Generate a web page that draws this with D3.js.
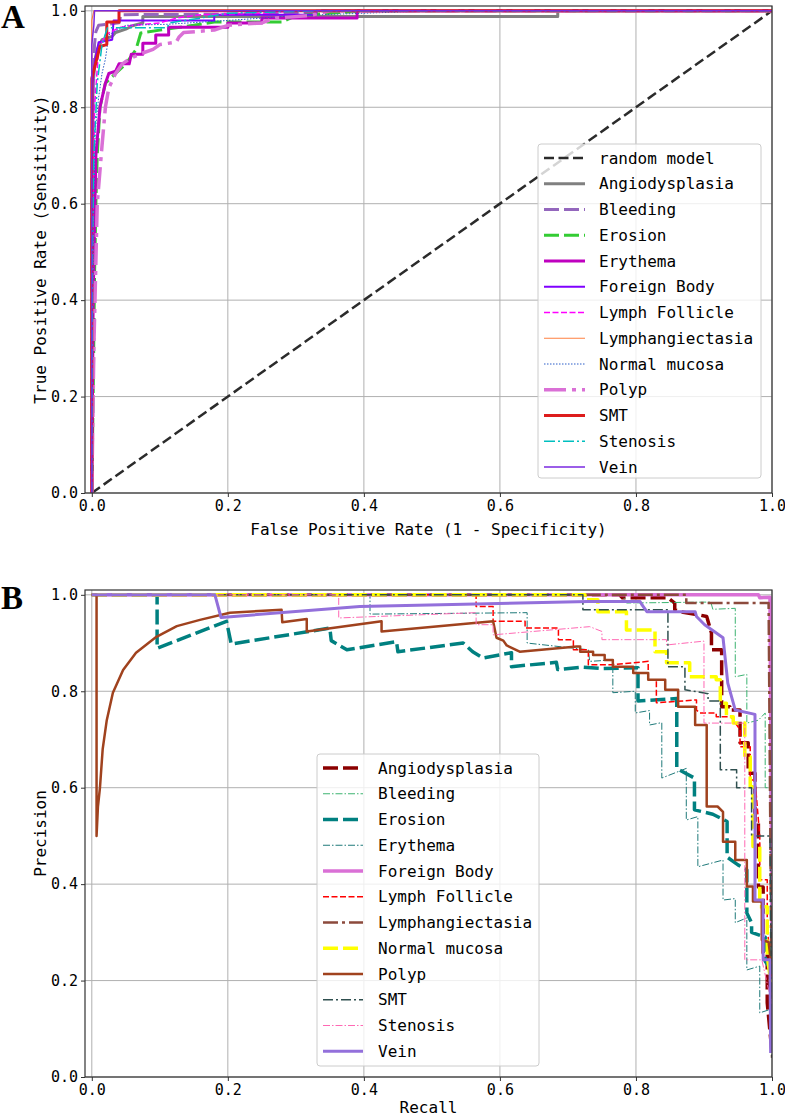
<!DOCTYPE html>
<html><head><meta charset="utf-8">
<script src="https://cdn.jsdelivr.net/npm/d3@7"></script>
<style>
body{margin:0;background:#fff}
</style>
</head><body>
<svg id="chart" width="785" height="1116"></svg>
<script>
// ---------------- DATA ----------------
const classNames = ["Angiodysplasia","Bleeding","Erosion","Erythema","Foreign Body","Lymph Follicle","Lymphangiectasia","Normal mucosa","Polyp","SMT","Stenosis","Vein"];
const tickValues = [0,0.2,0.4,0.6,0.8,1.0];
const tickLabels = ["0.0","0.2","0.4","0.6","0.8","1.0"];
const rocXLabel = "False Positive Rate (1 - Specificity)";
const rocYLabel = "True Positive Rate (Sensitivity)";
const prXLabel = "Recall";
const prYLabel = "Precision";
const randomModelLabel = "random model";
const randomModel = [[0,0],[1,1]];

// ROC curves [FPR, TPR]
const rocAngiodysplasia = [[0,0],[0,0.6],[0.002,0.85],[0.005,0.9],[0.008,0.92],[0.015,0.94],[0.03,0.947],[0.035,0.955],[0.05,0.962],[0.06,0.969],[0.075,0.975],[0.075,0.988],[0.685,0.988],[0.685,1],[1,1]];
const rocBleeding = [[0,0],[0,0.6],[0.002,0.85],[0.004,0.93],[0.006,0.957],[0.01,0.97],[0.04,0.975],[0.043,0.992],[0.2,0.993],[0.33,0.995],[0.33,1],[1,1]];
const rocErosion = [[0,0],[0.002,0.2],[0.004,0.45],[0.006,0.6],[0.008,0.7],[0.012,0.8],[0.02,0.85],[0.035,0.87],[0.05,0.89],[0.065,0.92],[0.072,0.954],[0.1,0.96],[0.15,0.97],[0.18,0.977],[0.28,0.977],[0.3,0.99],[0.4,1],[1,1]];
const rocErythema = [[0,0],[0.002,0.4],[0.006,0.7],[0.012,0.8],[0.02,0.85],[0.025,0.87],[0.035,0.875],[0.04,0.89],[0.055,0.89],[0.058,0.91],[0.075,0.91],[0.075,0.933],[0.094,0.933],[0.094,0.95],[0.113,0.95],[0.113,0.966],[0.2,0.966],[0.2,0.975],[0.25,0.975],[0.25,0.985],[0.39,0.985],[0.39,1],[1,1]];
const rocForeignBody = [[0,0],[0.001,0.85],[0.005,0.9],[0.01,0.935],[0.03,0.94],[0.032,0.98],[0.18,0.98],[0.18,0.992],[0.33,0.992],[0.33,1],[1,1]];
const rocLymphFollicle = [[0,0],[0.002,0.6],[0.004,0.8],[0.01,0.92],[0.02,0.95],[0.04,0.965],[0.06,0.97],[0.1,0.975],[0.125,0.985],[0.16,0.992],[0.25,0.995],[0.3,1],[1,1]];
const rocLymphangiectasia = [[0,0],[0,0.98],[0.003,1],[1,1]];
const rocNormalMucosa = [[0,0],[0.003,0.6],[0.005,0.75],[0.01,0.82],[0.015,0.87],[0.02,0.9],[0.025,0.95],[0.05,0.97],[0.11,0.972],[0.2,0.98],[0.3,0.99],[0.5,1],[1,1]];
const rocPolyp = [[0,0],[0.003,0.3],[0.008,0.6],[0.015,0.72],[0.02,0.8],[0.025,0.84],[0.035,0.87],[0.045,0.89],[0.055,0.9],[0.07,0.91],[0.09,0.92],[0.1,0.93],[0.124,0.935],[0.128,0.945],[0.135,0.955],[0.18,0.96],[0.2,0.97],[0.25,0.975],[0.27,0.985],[0.32,0.99],[0.35,1],[1,1]];
const rocSMT = [[0,0],[0,0.86],[0.012,0.926],[0.022,0.93],[0.022,0.977],[0.04,0.977],[0.04,1],[1,1]];
const rocStenosis = [[0,0],[0.001,0.5],[0.003,0.7],[0.008,0.85],[0.015,0.93],[0.023,0.965],[0.11,0.965],[0.115,0.975],[0.16,0.985],[0.2,0.995],[0.33,1],[1,1]];
const rocVein = [[0,0],[0,0.93],[0.003,0.97],[0.004,1],[1,1]];

// Precision-recall curves [recall, precision]
const prAngiodysplasia = [[0,1],[0.776,1],[0.78,0.994],[0.847,0.994],[0.857,0.983],[0.857,0.969],[0.865,0.965],[0.894,0.958],[0.904,0.955],[0.911,0.921],[0.911,0.886],[0.926,0.886],[0.926,0.768],[0.938,0.768],[0.938,0.761],[0.953,0.761],[0.953,0.693],[0.965,0.693],[0.965,0.63],[0.975,0.63],[0.975,0.533],[0.98,0.533],[0.98,0.394],[0.987,0.394],[0.987,0.257],[0.993,0.257],[0.993,0.154],[1,0.05]];
const prBleeding = [[0,1],[0.78,1],[0.786,0.983],[0.91,0.985],[0.913,0.97],[0.946,0.972],[0.946,0.83],[0.963,0.835],[0.963,0.734],[0.98,0.74],[0.99,0.755],[0.99,0.6],[0.997,0.6],[1,0.12]];
const prErosion = [[0,1],[0.096,1],[0.096,0.889],[0.198,0.945],[0.205,0.898],[0.35,0.931],[0.352,0.905],[0.375,0.886],[0.448,0.903],[0.45,0.882],[0.546,0.9],[0.56,0.882],[0.575,0.869],[0.617,0.88],[0.617,0.851],[0.683,0.86],[0.685,0.845],[0.72,0.85],[0.75,0.847],[0.803,0.849],[0.803,0.78],[0.86,0.785],[0.86,0.64],[0.886,0.62],[0.886,0.554],[0.913,0.545],[0.934,0.53],[0.934,0.456],[0.95,0.44],[0.963,0.43],[0.963,0.34],[0.97,0.32],[0.97,0.3],[0.99,0.29],[0.99,0.24],[1,0.22]];
const prErythema = [[0,1],[0.409,1],[0.409,0.96],[0.64,0.963],[0.64,0.9],[0.73,0.886],[0.732,0.862],[0.766,0.865],[0.766,0.797],[0.799,0.8],[0.799,0.755],[0.82,0.76],[0.82,0.73],[0.838,0.735],[0.838,0.62],[0.874,0.64],[0.874,0.533],[0.891,0.54],[0.891,0.436],[0.928,0.45],[0.928,0.367],[0.946,0.37],[0.946,0.32],[0.963,0.33],[0.963,0.222],[0.982,0.23],[0.982,0.133],[0.997,0.14],[1,0.05]];
const prForeignBody = [[0,1],[0.98,1],[0.982,0.994],[0.997,0.995],[1,0.3]];
const prLymphFollicle = [[0,1],[0.565,1],[0.565,0.976],[0.59,0.976],[0.59,0.945],[0.637,0.945],[0.637,0.931],[0.686,0.931],[0.686,0.907],[0.708,0.907],[0.708,0.886],[0.73,0.886],[0.73,0.855],[0.764,0.855],[0.818,0.862],[0.818,0.824],[0.83,0.824],[0.83,0.776],[0.889,0.782],[0.889,0.761],[0.894,0.755],[0.918,0.755],[0.918,0.747],[0.94,0.747],[0.953,0.72],[0.953,0.685],[0.968,0.685],[0.968,0.616],[0.975,0.616],[0.982,0.5],[0.982,0.409],[0.993,0.409],[0.993,0.312],[1,0.2]];
const prLymphangiectasia = [[0,1],[0.874,1],[0.874,0.983],[0.995,0.983],[1,0.04]];
const prNormalMucosa = [[0,1],[0.725,1],[0.725,0.99],[0.744,0.99],[0.744,0.965],[0.786,0.965],[0.786,0.927],[0.828,0.927],[0.828,0.882],[0.845,0.882],[0.845,0.859],[0.879,0.859],[0.879,0.83],[0.918,0.83],[0.918,0.824],[0.924,0.824],[0.924,0.775],[0.933,0.775],[0.933,0.747],[0.943,0.747],[0.943,0.734],[0.96,0.734],[0.96,0.664],[0.968,0.664],[0.968,0.602],[0.972,0.602],[0.972,0.478],[0.982,0.478],[0.982,0.353],[0.993,0.353],[0.993,0.25],[1,0.18]];
const prPolyp = [[0,1],[0.007,1],[0.007,0.5],[0.009,0.56],[0.012,0.6],[0.016,0.68],[0.022,0.74],[0.031,0.797],[0.046,0.844],[0.065,0.88],[0.095,0.913],[0.125,0.935],[0.159,0.948],[0.203,0.963],[0.279,0.969],[0.28,0.943],[0.316,0.95],[0.316,0.924],[0.426,0.945],[0.426,0.924],[0.59,0.945],[0.595,0.911],[0.605,0.905],[0.61,0.895],[0.629,0.882],[0.713,0.893],[0.718,0.893],[0.718,0.882],[0.737,0.882],[0.737,0.875],[0.754,0.875],[0.754,0.865],[0.766,0.865],[0.766,0.851],[0.796,0.851],[0.796,0.838],[0.818,0.838],[0.818,0.824],[0.843,0.824],[0.843,0.803],[0.862,0.803],[0.862,0.768],[0.887,0.768],[0.887,0.73],[0.904,0.73],[0.904,0.561],[0.92,0.561],[0.928,0.55],[0.928,0.488],[0.946,0.488],[0.946,0.45],[0.963,0.45],[0.963,0.395],[0.972,0.395],[0.972,0.364],[0.985,0.364],[0.985,0.284],[0.995,0.28],[1,0.22]];
const prSMT = [[0,1],[0.722,1],[0.722,0.969],[0.847,0.969],[0.847,0.851],[0.872,0.851],[0.872,0.803],[0.906,0.795],[0.906,0.78],[0.924,0.78],[0.924,0.637],[0.948,0.637],[0.948,0.6],[0.97,0.6],[0.97,0.5],[0.997,0.5],[1,0.04]];
const prStenosis = [[0,1],[0.363,1],[0.363,0.952],[0.565,0.963],[0.565,0.938],[0.59,0.938],[0.59,0.917],[0.732,0.934],[0.75,0.924],[0.75,0.907],[0.845,0.907],[0.845,0.896],[0.9,0.904],[0.9,0.734],[0.96,0.734],[0.96,0.243],[0.985,0.243],[1,0.15]];
const prVein = [[0,1],[0.181,1],[0.19,0.953],[0.394,0.976],[0.73,0.986],[0.806,0.986],[0.809,0.979],[0.816,0.965],[0.887,0.965],[0.889,0.955],[0.901,0.938],[0.928,0.911],[0.935,0.817],[0.946,0.761],[0.975,0.752],[0.975,0.367],[0.987,0.367],[0.987,0.243],[0.997,0.243],[0.998,0.05]];

const rocCurves = [rocAngiodysplasia,rocBleeding,rocErosion,rocErythema,rocForeignBody,rocLymphFollicle,rocLymphangiectasia,rocNormalMucosa,rocPolyp,rocSMT,rocStenosis,rocVein];
const prCurves = [prAngiodysplasia,prBleeding,prErosion,prErythema,prForeignBody,prLymphFollicle,prLymphangiectasia,prNormalMucosa,prPolyp,prSMT,prStenosis,prVein];

// ---------------- STYLES ----------------
const monoFont = "'DejaVu Sans Mono','Liberation Mono',monospace";
const serifFont = "'Liberation Serif','Times New Roman',serif";
const randomStyle = {color:"#2b2b2b", width:2.5, dash:"10,4.5"};
const rocStyles = [
  {color:"#808080", width:3, dash:null},
  {color:"#9467bd", width:3, dash:"15,5"},
  {color:"#33cc33", width:3, dash:"15,5"},
  {color:"#bf00bf", width:3, dash:null},
  {color:"#7f00ff", width:2, dash:null},
  {color:"#ff00ff", width:1.5, dash:"6,2.5"},
  {color:"#ff8040", width:1.2, dash:null},
  {color:"#2a5cc8", width:1, dash:"1.5,1.5"},
  {color:"#da70d6", width:3.5, dash:"22,6,4,6"},
  {color:"#dd1c1c", width:3, dash:null},
  {color:"#00bfbf", width:1.5, dash:"11,3,2,3"},
  {color:"#7a28e0", width:1.5, dash:null}
];
const prStyles = [
  {color:"#8b0000", width:3.5, dash:"15,5"},
  {color:"#3cb371", width:1, dash:"7,2,1.5,2"},
  {color:"#008080", width:3.5, dash:"15,5"},
  {color:"#1f7a7a", width:1, dash:"7,2,1.5,2"},
  {color:"#da70d6", width:3.5, dash:null},
  {color:"#ff0000", width:1.5, dash:"6,2.5"},
  {color:"#8c4a3c", width:2.5, dash:"15,4,3,4"},
  {color:"#ffff00", width:3.5, dash:"15,5"},
  {color:"#a0421e", width:2.5, dash:null},
  {color:"#2f4f4f", width:1.5, dash:"10,3,2,3"},
  {color:"#ff69b4", width:1, dash:"7,2,1.5,2"},
  {color:"#9370db", width:3, dash:null}
];

// ---------------- DRAW ----------------
const svg = d3.select("#chart");

function panel(cfg){
  const x = d3.scaleLinear().domain([-0.01,1.0]).range([cfg.left,cfg.right]);
  const y = d3.scaleLinear().domain([0,1.01]).range([cfg.bottom,cfg.top]);
  const g = svg.append("g");
  const cid = "clip"+cfg.id;
  svg.append("defs").append("clipPath").attr("id",cid)
    .append("rect").attr("x",cfg.left).attr("y",cfg.top)
    .attr("width",cfg.right-cfg.left).attr("height",cfg.bottom-cfg.top);

  // grid
  g.append("g").selectAll("line").data(tickValues).join("line")
    .attr("x1",d=>x(d)).attr("x2",d=>x(d)).attr("y1",cfg.top).attr("y2",cfg.bottom)
    .attr("stroke","#b0b0b0").attr("stroke-width",1);
  g.append("g").selectAll("line").data(tickValues).join("line")
    .attr("y1",d=>y(d)).attr("y2",d=>y(d)).attr("x1",cfg.left).attr("x2",cfg.right)
    .attr("stroke","#b0b0b0").attr("stroke-width",1);

  const line = d3.line().x(d=>x(d[0])).y(d=>y(d[1]));
  const lg = g.append("g").attr("clip-path",`url(#${cid})`);
  cfg.series.forEach((s,i)=>{
    const st = cfg.styles[i];
    lg.append("path").datum(s).attr("d",line).attr("fill","none")
      .attr("stroke",st.color).attr("stroke-width",st.width)
      .attr("stroke-dasharray",st.dash).attr("stroke-linejoin","round");
  });

  // frame
  g.append("rect").attr("x",cfg.left).attr("y",cfg.top)
    .attr("width",cfg.right-cfg.left).attr("height",cfg.bottom-cfg.top)
    .attr("fill","none").attr("stroke","#333").attr("stroke-width",1.2);

  // axes
  const ax = g.append("g").attr("transform",`translate(0,${cfg.bottom})`)
    .call(d3.axisBottom(x).tickValues(tickValues).tickFormat((d,i)=>tickLabels[i]).tickSize(4).tickPadding(3));
  const ay = g.append("g").attr("transform",`translate(${cfg.left},0)`)
    .call(d3.axisLeft(y).tickValues(tickValues).tickFormat((d,i)=>tickLabels[i]).tickSize(4).tickPadding(3));
  [ax,ay].forEach(a=>{
    a.select(".domain").remove();
    a.selectAll("line").attr("stroke","#333");
    a.selectAll("text").style("font-size","15px").style("font-family",monoFont).attr("fill","#000");
  });

  // axis labels
  g.append("text").attr("x",(cfg.left+cfg.right)/2).attr("y",cfg.xLabelY)
    .attr("text-anchor","middle").style("font-size","16px").style("font-family",monoFont).text(cfg.xLabel);
  g.append("text").attr("transform",`translate(${cfg.yLabelX},${(cfg.top+cfg.bottom)/2}) rotate(-90)`)
    .attr("text-anchor","middle").style("font-size","16px").style("font-family",monoFont).text(cfg.yLabel);

  // panel letter
  svg.append("text").attr("x",1).attr("y",cfg.letterY).text(cfg.letter)
    .style("font-family",serifFont).style("font-weight","bold")
    .style("font-size","33px");

  // legend
  const L = cfg.legend;
  const lgd = g.append("g");
  lgd.append("rect").attr("x",L.x).attr("y",L.y).attr("width",L.w).attr("height",L.h)
    .attr("rx",3).attr("fill","#fff").attr("fill-opacity",0.8).attr("stroke","#cccccc").attr("stroke-width",1);
  L.items.forEach((it,i)=>{
    const cy = L.firstY + i*L.step;
    lgd.append("line").attr("x1",L.hx1).attr("x2",L.hx2).attr("y1",cy).attr("y2",cy)
      .attr("stroke",it.style.color).attr("stroke-width",it.style.width).attr("stroke-dasharray",it.style.dash);
    lgd.append("text").attr("x",L.tx).attr("y",cy+5.5).style("font-size","16px").style("font-family",monoFont).text(it.label);
  });
}

// Panel A
panel({
  id:"A", letter:"A", letterY:28,
  left:85, right:772, top:6, bottom:493,
  series:[randomModel].concat(rocCurves),
  styles:[randomStyle].concat(rocStyles),
  xLabel:rocXLabel, yLabel:rocYLabel, xLabelY:535, yLabelX:46,
  legend:{x:538,y:144,w:223,h:334,firstY:158,step:25.75,hx1:544,hx2:585,tx:599,
    items:[{label:randomModelLabel,style:randomStyle}].concat(classNames.map((n,i)=>({label:n,style:rocStyles[i]})))}
});

// Panel B
panel({
  id:"B", letter:"B", letterY:609,
  left:85, right:772, top:590, bottom:1077,
  series:prCurves, styles:prStyles,
  xLabel:prXLabel, yLabel:prYLabel, xLabelY:1113, yLabelX:46,
  legend:{x:317,y:754,w:222,h:312,firstY:768,step:25.75,hx1:323,hx2:363,tx:378,
    items:classNames.map((n,i)=>({label:n,style:prStyles[i]}))}
});
</script>
</body></html>
